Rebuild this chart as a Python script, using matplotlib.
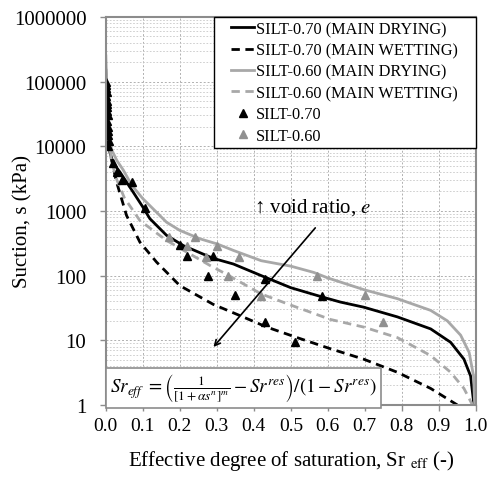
import matplotlib
matplotlib.use("Agg")
import matplotlib.pyplot as plt
from matplotlib.patches import Rectangle
from matplotlib.ticker import FixedLocator, NullFormatter

plt.rcParams['font.family'] = ['Liberation Serif', 'DejaVu Serif']
plt.rcParams['mathtext.fontset'] = 'stix'

# SILT-0.70 main drying curve
dry70_sr = [0.0, 0.003, 0.006, 0.011, 0.02, 0.038, 0.074, 0.10, 0.119, 0.164, 0.21, 0.29,
            0.345, 0.42, 0.50, 0.589, 0.634, 0.697, 0.788, 0.878, 0.932, 0.968, 0.986, 0.995]
dry70_s = [150000, 50000, 20000, 8000, 5500, 4000, 1950, 1150, 760, 420, 290, 185,
           151, 100, 65, 46, 39, 32.5, 23, 15, 9.3, 5.1, 2.8, 1.0]

# SILT-0.70 main wetting curve
wet70_sr = [0.0, 0.005, 0.015, 0.029, 0.056, 0.092, 0.137, 0.182, 0.20, 0.29, 0.363,
            0.435, 0.517, 0.607, 0.697, 0.788, 0.878, 0.95]
wet70_s = [80000, 20000, 6300, 2800, 850, 330, 162, 89, 70, 36, 24,
           16, 11, 7.4, 5.1, 3.2, 1.8, 1.0]

# SILT-0.60 main drying curve
dry60_sr = [0.0, 0.002, 0.006, 0.015, 0.03, 0.047, 0.07, 0.10, 0.164, 0.20, 0.255, 0.30,
            0.345, 0.42, 0.50, 0.562, 0.60, 0.70, 0.788, 0.878, 0.923, 0.959, 0.982,
            0.994, 0.997]
dry60_s = [250000, 100000, 25000, 9000, 6000, 4300, 2500, 1550, 670, 500, 370, 310,
           245, 170, 140, 112, 92, 60, 44, 29, 20, 12, 6.5, 2.8, 1.0]

# SILT-0.60 main wetting curve
wet60_sr = [0.0, 0.005, 0.015, 0.03, 0.05, 0.092, 0.164, 0.219, 0.282, 0.33, 0.42,
            0.50, 0.607, 0.697, 0.788, 0.878, 0.932, 0.968, 0.991]
wet60_s = [100000, 20000, 6000, 3000, 1600, 710, 350, 230, 143, 102, 52,
           35, 21, 16, 11, 5.8, 3.2, 1.8, 1.0]

# measured points
pts70_sr = [0.0, 0.001, 0.0, 0.002, 0.001, 0.003, 0.002, 0.004, 0.003, 0.005, 0.004,
            0.006, 0.005, 0.007, 0.008, 0.006, 0.02, 0.03, 0.045, 0.07, 0.105,
            0.20, 0.22, 0.29, 0.275, 0.35, 0.43, 0.585, 0.43, 0.51]
pts70_s = [100000, 90000, 80000, 70000, 60000, 50000, 45000, 40000, 35000, 30000, 25000,
           20000, 17000, 15000, 12000, 10000, 5600, 4000, 3000, 2800, 1130,
           300, 200, 200, 100, 50, 90, 48, 19, 9.5]

pts60_sr = [0.17, 0.24, 0.22, 0.30, 0.27, 0.36, 0.33, 0.42, 0.57, 0.70, 0.75]
pts60_s = [390, 390, 290, 290, 192, 192, 100, 49, 98, 50, 19]

yticks = [1, 10, 100, 1000, 10000, 100000, 1000000]
ytick_labels = ['1', '10', '100', '1000', '10000', '100000', '1000000']

black = '#000000'
grey = '#a8a8a8'
frame = '#8c8c8c'

fig = plt.figure(figsize=(4.9, 4.85), dpi=100)
ax = fig.add_axes([0.216, 0.163, 0.755, 0.800])

ax.plot(dry70_sr, dry70_s, color=black, lw=2.0, label='SILT-0.70 (MAIN DRYING)')
ax.plot(wet70_sr, wet70_s, color=black, lw=2.0, ls=(0, (3, 2)), label='SILT-0.70 (MAIN WETTING)')
ax.plot(dry60_sr, dry60_s, color=grey, lw=2.0, label='SILT-0.60 (MAIN DRYING)')
ax.plot(wet60_sr, wet60_s, color=grey, lw=2.0, ls=(0, (3, 2)), label='SILT-0.60 (MAIN WETTING)')
ax.plot(pts70_sr, pts70_s, ls='none', marker='^', ms=6, color=black, label='SILT-0.70')
ax.plot(pts60_sr, pts60_s, ls='none', marker='^', ms=6, color='#909090', label='SILT-0.60')

ax.set_yscale('log')
ax.set_xlim(0, 1.0)
ax.set_ylim(1, 1000000)
ax.set_xticks([i / 10 for i in range(11)])
ax.set_xticklabels([f'{i / 10:.1f}' for i in range(11)], fontsize=14)
ax.yaxis.set_major_locator(FixedLocator(yticks))
ax.set_yticklabels(ytick_labels, fontsize=15)
ax.yaxis.set_minor_formatter(NullFormatter())

ax.grid(True, which='major', color='#b0b0b0', ls=(0, (2, 2)), lw=0.7)
ax.grid(True, which='minor', axis='y', color='#c8c8c8', ls=(0, (2, 2)), lw=0.6)
ax.tick_params(axis='both', which='major', color=frame, length=4, width=1)
ax.tick_params(axis='y', which='major', pad=10)
ax.tick_params(axis='x', which='major', pad=5)
ax.tick_params(axis='y', which='minor', length=0)
for sp in ax.spines.values():
    sp.set_color(frame)
    sp.set_linewidth(1.5)

ax.set_xlabel(r'Effective degree of saturation, Sr $_{\mathrm{eff}}$ (-)', fontsize=15, labelpad=10)
ax.set_ylabel('Suction, s (kPa)', fontsize=15)
ax.yaxis.set_label_coords(-0.197, 0.475)

# legend: frame drawn separately so the side padding can be wider
ax.add_patch(Rectangle((0.292, 0.662), 0.708, 0.338, transform=ax.transAxes,
                       facecolor='white', edgecolor='black', lw=1.0, zorder=4.5,
                       clip_on=False))
leg = ax.legend(loc='upper left', bbox_to_anchor=(0.328, 1.0), borderaxespad=0,
                fontsize=11.7, handlelength=1.4, handletextpad=0.1, labelspacing=0.33,
                frameon=False, borderpad=0.25)
leg.set_zorder(5)

# void ratio arrow
ax.annotate('', xy=(0.286, 7.3), xytext=(0.571, 590),
            arrowprops=dict(arrowstyle='->', color=black, lw=1.2))
ax.text(0.56, 1150, '\u2191 void ratio, $e$', fontsize=15, ha='center', va='center')

# equation box
ax.text(0.012, 1.85, r'$Sr_{eff}\ =\left(\frac{1}{[1+\alpha s^n]^m}-Sr^{res}\right)/(1-Sr^{res})$',
        fontsize=13.8, ha='left', va='center',
        bbox=dict(boxstyle='square,pad=0.2', facecolor='white', edgecolor=frame, lw=1.2))

plt.savefig('out.png', dpi=100)
